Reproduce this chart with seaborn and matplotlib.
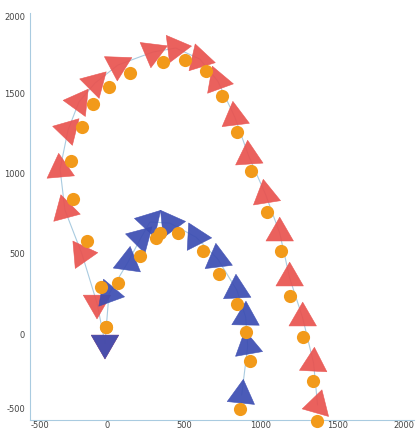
import pandas as pd
import matplotlib
matplotlib.use("Agg")
import matplotlib.pyplot as plt
import seaborn as sns

# red trajectory: orange dots and the triangles on the line
red_dot_x = [-10, -42, -134, -225, -238, -166, -94, 10, 147, 362, 505, 642, 746, 844, 935, 1039, 1130, 1189, 1274, 1339, 1365]
red_dot_y = [44, 292, 579, 841, 1077, 1289, 1432, 1538, 1625, 1694, 1706, 1638, 1482, 1258, 1015, 760, 517, 237, -19, -293, -542]
red_tri_x = [-16, -68, -166, -277, -309, -257, -186, -81, 68, 296, 446, 603, 720, 831, 922, 1033, 1124, 1189, 1274, 1345, 1371]
red_tri_y = [-56, 193, 498, 772, 1027, 1270, 1445, 1563, 1675, 1756, 1781, 1712, 1575, 1351, 1108, 866, 629, 349, 100, -181, -442]
red_tri_rot = [60, 60, 35, 15, 5, 76, 84, 75, 58, 53, 37, 17, 20, 7, 4, 9, 0, 0, 0, -3, -16]

# blue trajectory
blue_dot_x = [-10, 68, 212, 316, 342, 459, 622, 726, 844, 902, 928, 863]
blue_dot_y = [44, 318, 486, 598, 629, 629, 517, 374, 187, 12, -168, -467]
blue_tri_x = [-16, 10, 134, 218, 277, 407, 577, 720, 844, 902, 915, 876]
blue_tri_y = [-56, 249, 448, 598, 698, 691, 604, 467, 274, 106, -75, -380]
blue_tri_rot = [60, 20, -8, 75, 77, 36, 27, 7, 3, -1, 10, -6]

ticks = [-500, 0, 500, 1000, 1500, 2000]

sns.set_theme(style="white")

fig = plt.figure(figsize=(4.18, 4.29), dpi=100)
ax = fig.add_axes([0.0718, 0.0221, 0.9186, 0.9483])

line_color = "#a9cbe0"
orange = "#f29a1a"


def draw_series(tri_x, tri_y, tri_rot, dot_x, dot_y, color):
    tri = pd.DataFrame({"x": tri_x, "y": tri_y, "key": [str(i) for i in range(len(tri_x))]})
    marks = {str(i): (3, 0, r) for i, r in enumerate(tri_rot)}
    sns.lineplot(x=tri_x, y=tri_y, sort=False, color=line_color, lw=0.8, ax=ax, zorder=1)
    sns.scatterplot(data=tri, x="x", y="y", style="key", markers=marks, s=520,
                    color=color, edgecolor=color, linewidth=0.4, alpha=0.92,
                    legend=False, ax=ax, zorder=2, clip_on=False)
    sns.scatterplot(x=dot_x, y=dot_y, s=90, color=orange, edgecolor=orange,
                    linewidth=0, legend=False, ax=ax, zorder=3, clip_on=False)


draw_series(red_tri_x, red_tri_y, red_tri_rot, red_dot_x, red_dot_y, "#e9534f")
draw_series(blue_tri_x, blue_tri_y, blue_tri_rot, blue_dot_x, blue_dot_y, "#3c4db2")

ax.set_xlim(-505, 1997)
ax.set_ylim(-532, 2001)
ax.set_xticks(ticks)
ax.set_yticks(ticks)
ax.set_xticklabels([str(t) for t in ticks])
ax.set_yticklabels([str(t) for t in ticks])
ax.set_xlabel("")
ax.set_ylabel("")

for side in ["top", "right"]:
    ax.spines[side].set_visible(False)
for side in ["left", "bottom"]:
    ax.spines[side].set_color(line_color)
    ax.spines[side].set_linewidth(0.8)

ax.tick_params(axis="both", labelsize=6, colors="#444444", width=0.6)
ax.tick_params(axis="y", length=2, pad=1.5, color=line_color)
ax.tick_params(axis="x", length=0, pad=0.8)

xl = ax.get_xticklabels()
xl[0].set_ha("left")
xl[-1].set_ha("right")
yl = ax.get_yticklabels()
yl[0].set_va("bottom")
yl[-1].set_va("top")

fig.savefig("out.png", dpi=100)
